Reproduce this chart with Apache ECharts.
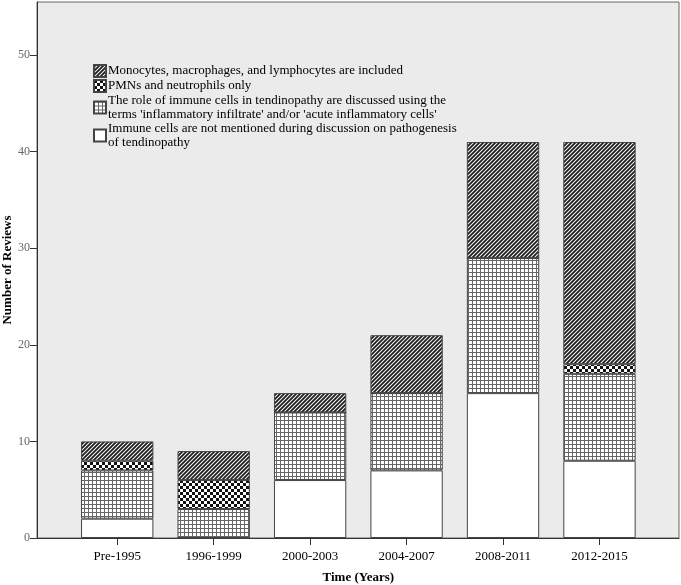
<!DOCTYPE html>
<html><head><meta charset="utf-8">
<script src="https://cdn.jsdelivr.net/npm/echarts@6/dist/echarts.min.js"></script>
<style>html,body{margin:0;padding:0;background:#fff}#c{width:681px;height:585px}</style>
</head><body><div id="c"></div>
<script>
const categories = ['Pre-1995','1996-1999','2000-2003','2004-2007','2008-2011','2012-2015'];
const seriesNames = [
  'Immune cells are not mentioned during discussion on pathogenesis\nof tendinopathy',
  "The role of immune cells in tendinopathy are discussed using the\nterms 'inflammatory infiltrate' and/or 'acute inflammatory cells'",
  'PMNs and neutrophils only',
  'Monocytes, macrophages, and lymphocytes are included'
];
const notMentioned = [2, 0, 6, 7, 15, 8];
const inflammatory = [5, 3, 7, 8, 14, 9];
const pmnsOnly     = [1, 3, 0, 0, 0, 1];
const monocytes    = [2, 3, 2, 6, 12, 23];
const yTicks = [0, 10, 20, 30, 40, 50];

function pattern(kind){
  const c = document.createElement('canvas');
  const ctx = c.getContext('2d');
  if(kind==='diag'){
    c.width=4;c.height=4;
    ctx.fillStyle='#1c1c1c';ctx.fillRect(0,0,4,4);
    ctx.strokeStyle='#f4f4f4';ctx.lineWidth=1.1;
    ctx.beginPath();
    ctx.moveTo(0,4);ctx.lineTo(4,0);
    ctx.moveTo(-1,1);ctx.lineTo(1,-1);
    ctx.moveTo(3,5);ctx.lineTo(5,3);
    ctx.stroke();
  } else if(kind==='check'){
    c.width=6;c.height=6;
    ctx.fillStyle='#ffffff';ctx.fillRect(0,0,6,6);
    ctx.fillStyle='#111';ctx.fillRect(0,0,3,3);ctx.fillRect(3,3,3,3);
  } else if(kind==='grid'){
    c.width=4;c.height=4;
    ctx.fillStyle='#ffffff';ctx.fillRect(0,0,4,4);
    ctx.fillStyle='#666';ctx.fillRect(0,0,4,1);ctx.fillRect(0,0,1,4);
  } else {
    c.width=4;c.height=4;ctx.fillStyle='#fff';ctx.fillRect(0,0,4,4);
  }
  return {image:c, repeat:'repeat'};
}

const font = 'Liberation Serif';
const chart = echarts.init(document.getElementById('c'));
const vals = [notMentioned, inflammatory, pmnsOnly, monocytes];
const fills = [ '#ffffff', pattern('grid'), pattern('check'), pattern('diag') ];
const series = vals.map((v,i)=>({
  name: seriesNames[i], type:'bar', stack:'s', xAxisIndex:1, yAxisIndex:1,
  barWidth:'75%', data:v,
  itemStyle:{color:fills[i], borderColor:'#444', borderWidth:1},
  emphasis:{disabled:true}
}));
chart.setOption({
  animation:false,
  backgroundColor:'#fff',
  grid:[
    {left:37, right:2, top:2, bottom:47, show:true, backgroundColor:'#ebebeb', borderColor:'#666', borderWidth:1,
     containLabel:false, outerBoundsMode:'none'},
    {left:69, right:33.3, top:2, bottom:47, containLabel:false, outerBoundsMode:'none'}
  ],
  legend:{
    orient:'vertical', left:88, top:59, icon:'rect',
    data:[seriesNames[3], seriesNames[2], seriesNames[1], seriesNames[0]],
    itemWidth:12, itemHeight:12, itemGap:1,
    textStyle:{fontFamily:font, fontSize:13, color:'#000', lineHeight:13.5, padding:[0,0,0,-3]}
  },
  xAxis:[
    {type:'value', gridIndex:0, min:0, max:1, axisLine:{show:true, lineStyle:{color:'#333', width:1}},
     axisTick:{show:false}, axisLabel:{show:false}, splitLine:{show:false}},
    {type:'category', gridIndex:1, data:categories,
     axisLine:{show:false}, axisTick:{show:true, alignWithLabel:true, length:7, lineStyle:{color:'#333'}},
     axisLabel:{fontFamily:font, fontSize:13, color:'#000', margin:12},
     name:'Time (Years)', nameLocation:'middle', nameGap:33, nameMoveOverlap:false,
     nameTextStyle:{fontFamily:font, fontSize:13, fontWeight:'bold', color:'#000'}}
  ],
  yAxis:[
    {type:'value', gridIndex:0, min:0, max:55.5,
     axisLine:{show:true, lineStyle:{color:'#333'}},
     axisTick:{show:true, length:7, customValues:yTicks, lineStyle:{color:'#333'}},
     axisLabel:{fontFamily:font, fontSize:12, color:'#666', margin:7, customValues:yTicks},
     splitLine:{show:false},
     name:'Number of Reviews', nameLocation:'middle', nameGap:23, nameMoveOverlap:false,
     nameTextStyle:{fontFamily:font, fontSize:13, fontWeight:'bold', color:'#000'}},
    {type:'value', gridIndex:1, min:0, max:55.5, show:false, splitLine:{show:false}}
  ],
  series:series
});
</script></body></html>
